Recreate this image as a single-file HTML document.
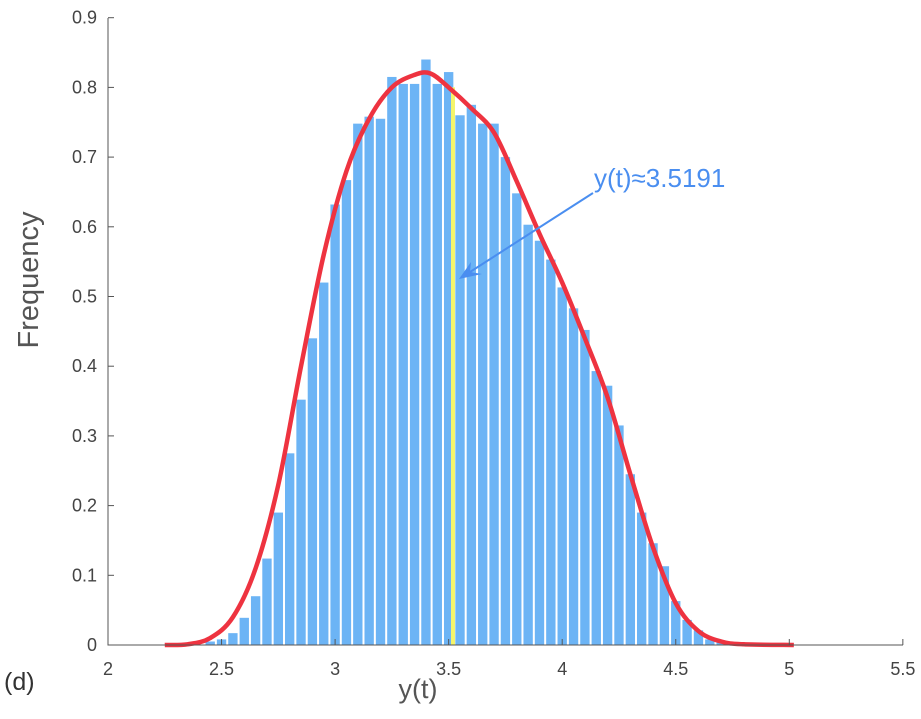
<!DOCTYPE html>
<html><head><meta charset="utf-8"><style>
body{margin:0;background:#fff;width:921px;height:714px;overflow:hidden}
svg text{font-family:"Liberation Sans",sans-serif}
</style></head><body>
<svg id="c" width="921" height="714"></svg>
<script>
const binCenters=[2.45,2.5,2.55,2.6,2.65,2.7,2.75,2.8,2.85,2.9,2.95,3.0,3.05,3.1,3.15,3.2,3.25,3.3,3.35,3.4,3.45,3.5,3.55,3.6,3.65,3.7,3.75,3.8,3.85,3.9,3.95,4.0,4.05,4.1,4.15,4.2,4.25,4.3,4.35,4.4,4.45,4.5,4.55,4.6,4.65,4.7];
const binValues=[0.005,0.008,0.017,0.039,0.07,0.124,0.19,0.275,0.352,0.44,0.52,0.632,0.667,0.748,0.758,0.755,0.815,0.805,0.805,0.84,0.805,0.822,0.76,0.775,0.748,0.748,0.70,0.648,0.603,0.58,0.553,0.513,0.483,0.452,0.393,0.372,0.315,0.245,0.19,0.146,0.113,0.063,0.036,0.021,0.008,0.004];
const curveX=[2.25,2.35,2.45,2.55,2.65,2.75,2.85,2.95,3.05,3.15,3.25,3.35,3.42,3.5,3.6,3.7,3.8,3.9,4.0,4.1,4.2,4.3,4.4,4.5,4.6,4.7,4.8,5.02];
const curveY=[0,0.001,0.01,0.04,0.11,0.23,0.40,0.56,0.68,0.755,0.80,0.818,0.82,0.80,0.77,0.735,0.665,0.59,0.52,0.44,0.355,0.245,0.14,0.06,0.02,0.005,0.001,0];
const xTicks=[2,2.5,3,3.5,4,4.5,5,5.5];
const yTicks=[0,0.1,0.2,0.3,0.4,0.5,0.6,0.7,0.8,0.9];
const markValue=3.5191, markTop=0.8;
const binWidth=0.05;
const sx=v=>108+(v-2)*227.1, sy=v=>645-v*697;
const NS="http://www.w3.org/2000/svg", svg=document.getElementById('c');
function mk(t,a,p){const e=document.createElementNS(NS,t);for(const k in a)e.setAttribute(k,a[k]);(p||svg).appendChild(e);return e;}
binCenters.forEach((c,i)=>{
 const x0=sx(c-binWidth/2)+1, x1=sx(c+binWidth/2)-1;
 const r=mk('rect',{x:x0,y:sy(binValues[i]),width:x1-x0,height:sy(0)-sy(binValues[i]),fill:'#6cb4f5'});
 
 
});
const yl=mk('line',{x1:sx(markValue),x2:sx(markValue),y1:sy(0),y2:sy(markTop),stroke:'#f5f56a','stroke-width':4});


const P=curveX.map((x,i)=>[sx(x),sy(curveY[i])]);
let d='M'+P[0][0]+','+P[0][1];
for(let i=0;i<P.length-1;i++){const p0=P[Math.max(i-1,0)],p1=P[i],p2=P[i+1],p3=P[Math.min(i+2,P.length-1)];
 d+=' C'+(p1[0]+(p2[0]-p0[0])/6)+','+(p1[1]+(p2[1]-p0[1])/6)+' '+(p2[0]-(p3[0]-p1[0])/6)+','+(p2[1]-(p3[1]-p1[1])/6)+' '+p2[0]+','+p2[1];}
const cv=mk('path',{d:d,fill:'none',stroke:'#ee3340','stroke-width':4.5,'stroke-linejoin':'round'});


const ax=mk('path',{d:'M108,18 V645 H903',fill:'none',stroke:'#555','stroke-width':1});


xTicks.forEach(v=>{mk('line',{x1:sx(v),x2:sx(v),y1:645,y2:639,stroke:'#555'});
 const t=mk('text',{x:sx(v),y:675,'text-anchor':'middle','font-size':18,fill:'#444'});t.textContent=v;
 
 });
yTicks.forEach(v=>{mk('line',{x1:108,x2:114,y1:sy(v),y2:sy(v),stroke:'#555'});
 const t=mk('text',{x:97,y:sy(v)+6,'text-anchor':'end','font-size':18,fill:'#444'});t.textContent=v;
 
 });
</script>
<svg width="921" height="714" style="position:absolute;left:0;top:0">
<text x="38" y="280" transform="rotate(-90 38 280)" text-anchor="middle" font-size="29" fill="#555">Frequency</text>
<text x="418" y="698" text-anchor="middle" font-size="27" fill="#555">y(t)</text>
<text x="4" y="690" font-size="25" fill="#333">(d)</text>
<text x="594" y="187" font-size="26" fill="#4a8ef0">y(t)≈3.5191</text>
<g>
<line x1="593" y1="193" x2="470" y2="272" stroke="#4a8ef0" stroke-width="2"/>
<path d="M459,279 L471,262 L470,272 L482,274 Z" fill="#4a8ef0"/>
</g>
</svg>
</body></html>
